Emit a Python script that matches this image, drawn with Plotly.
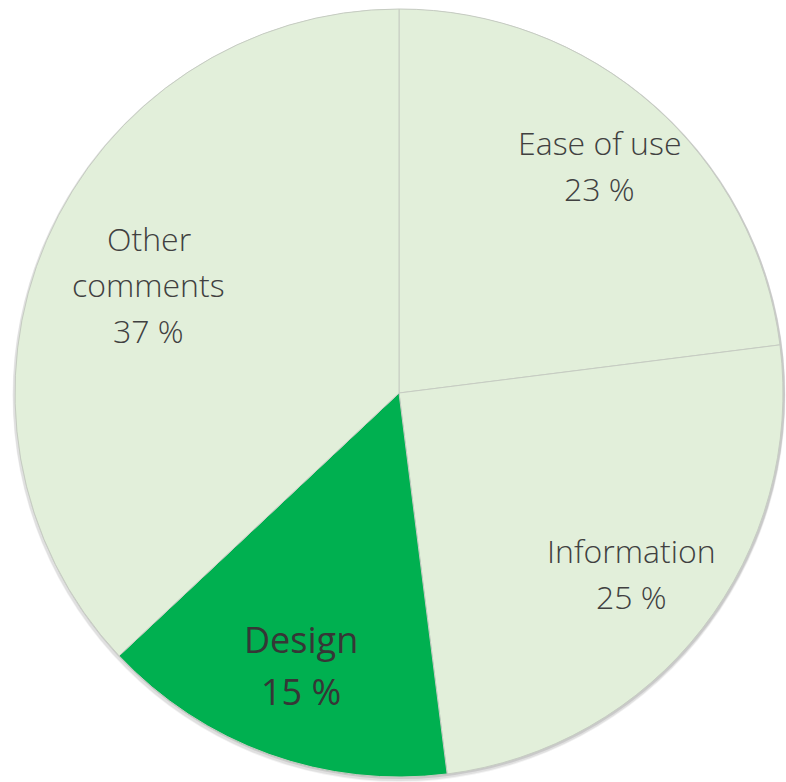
import math
import plotly.graph_objects as go

# Survey feedback by topic
categories = ["Ease of use", "Information", "Design", "Other comments"]
shares = [23, 25, 15, 37]
label_lines = [["Ease of use", "23 %"], ["Information", "25 %"], ["Design", "15 %"], ["Other", "comments", "37 %"]]
slice_colors = ["#e2efda", "#e2efda", "#00b050", "#e2efda"]

W, H = 786, 782
CX, CY = 399, 389          # pie centre in pixels (y measured from bottom)
R = 384                    # pie radius in pixels
LABEL_RADIUS = [0.79, 0.765, 0.755, 0.71]   # label distance from centre, fraction of R


def dom(cx, cy, r):
    return dict(x=[max(0, (cx - r) / W), min(1, (cx + r) / W)],
                y=[max(0, (cy - r) / H), min(1, (cy + r) / H)])


fig = go.Figure()

# soft drop shadow behind the pie
for grow, dx, dy, alpha in [(3, 0, -3, 0.05), (2, 0, -2, 0.07), (1, 1, -1, 0.10)]:
    fig.add_trace(go.Pie(
        values=[1], labels=["shadow"], marker=dict(colors=[f"rgba(0,0,0,{alpha})"], line=dict(width=0)),
        domain=dom(CX + dx, CY + dy, R + grow),
        textinfo="none", hoverinfo="skip", showlegend=False, sort=False,
    ))

fig.add_trace(go.Pie(
    labels=categories, values=shares, sort=False, direction="clockwise", rotation=0,
    marker=dict(colors=slice_colors, line=dict(color="#c6ccc2", width=1)),
    domain=dom(CX, CY, R),
    textinfo="none", showlegend=False,
))

# labels placed along each slice's bisector
total = sum(shares)
start = 0.0
annotations = []
for cat, val, lines, kr in zip(categories, shares, label_lines, LABEL_RADIUS):
    mid = (start + val / 2) / total * 2 * math.pi
    start += val
    big = cat == "Design"
    rr = kr * R
    px = CX + rr * math.sin(mid)
    py = CY + rr * math.cos(mid)
    step = 52 if big else 46
    size = 36 if big else 32
    color = "#363636" if big else "#404040"
    n = len(lines)
    for i, t in enumerate(lines):
        ly = py + (n - 1) / 2 * step - i * step
        annotations.append(dict(
            x=px / W, y=ly / H, xref="paper", yref="paper", text=t, showarrow=False,
            xanchor="center", yanchor="middle",
            font=dict(family="Open Sans", size=size, color=color, weight=400 if big else 300),
        ))

fig.update_layout(
    width=W, height=H, margin=dict(l=0, r=0, t=0, b=0),
    paper_bgcolor="white", plot_bgcolor="white", annotations=annotations,
)

fig.write_html("out.html")
